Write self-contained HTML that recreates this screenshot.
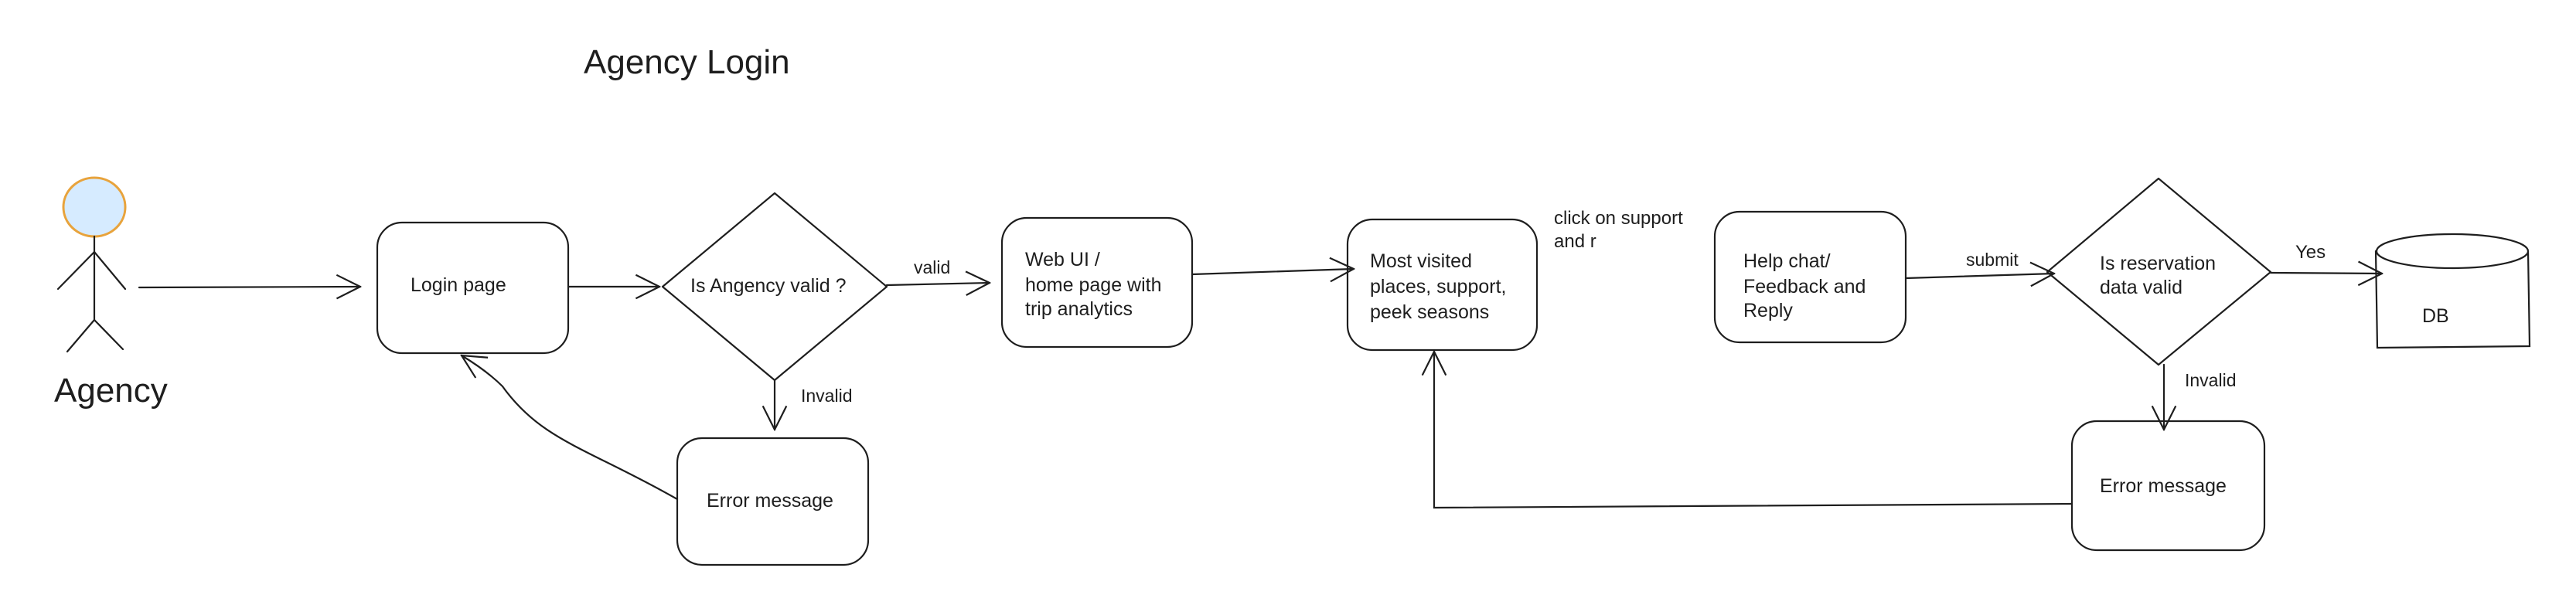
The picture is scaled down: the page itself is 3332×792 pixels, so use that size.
<!DOCTYPE html>
<html><head><meta charset="utf-8"><style>
html,body{margin:0;padding:0;background:#fff}
svg{display:block}
text{font-family:"Liberation Sans",sans-serif;fill:#1e1e1e}
</style></head><body>
<svg width="3332" height="792" viewBox="0 0 3332 792" xmlns="http://www.w3.org/2000/svg">
<defs>
<marker id="a" viewBox="0 0 20 20" refX="19" refY="10" markerWidth="34" markerHeight="34" markerUnits="userSpaceOnUse" orient="auto">
<path d="M1 1 L19 10 L1 19" fill="none" stroke="#1e1e1e" stroke-width="1.3"/>
</marker>
</defs>
<text x="755" y="95" font-size="44">Agency Login</text>

<ellipse cx="122" cy="268" rx="40" ry="38" fill="#d6ebff" stroke="#e8a33c" stroke-width="3"/>
<g fill="none" stroke="#1e1e1e" stroke-width="2.2" stroke-linecap="round">
<line x1="122" y1="306" x2="122" y2="414"/>
<line x1="122" y1="326" x2="75" y2="374"/>
<line x1="122" y1="326" x2="162" y2="374"/>
<line x1="122" y1="414" x2="87" y2="455"/>
<line x1="122" y1="414" x2="159" y2="452"/>
</g>
<text x="70" y="520" font-size="44">Agency</text>

<g fill="none" stroke="#1e1e1e" stroke-width="2.2" stroke-linecap="round">
<line x1="180" y1="372" x2="466" y2="371" marker-end="url(#a)"/>
<rect x="488" y="288" width="247" height="169" rx="32"/>
<line x1="735" y1="371" x2="853" y2="371" marker-end="url(#a)"/>
<path d="M1002 250 L1147 371 L1002 492 L857 371 Z" stroke-linejoin="round"/>
<line x1="1147" y1="369" x2="1280" y2="366" marker-end="url(#a)"/>
<rect x="1296" y="282" width="246" height="167" rx="32"/>
<line x1="1542" y1="355" x2="1751" y2="348" marker-end="url(#a)"/>
<line x1="1002" y1="492" x2="1002" y2="556" marker-end="url(#a)"/>
<rect x="876" y="567" width="247" height="164" rx="32"/>
<path d="M876 646 C760 580 700 570 650 500 Q630 480 597 460" marker-end="url(#a)"/>

<rect x="1743" y="284" width="245" height="169" rx="32"/>
<rect x="2218" y="274" width="247" height="169" rx="32"/>
<line x1="2465" y1="360" x2="2657" y2="354" marker-end="url(#a)"/>
<path d="M2792 231 L2937 352 L2792 472 L2648 352 Z" stroke-linejoin="round"/>
<line x1="2937" y1="353" x2="3081" y2="354" marker-end="url(#a)"/>
<path d="M3073 325 L3075 450 L3272 448 L3270 325"/>
<ellipse cx="3172" cy="325" rx="98" ry="22" fill="#fff"/>
<line x1="2799" y1="472" x2="2799" y2="556" marker-end="url(#a)"/>
<rect x="2680" y="545" width="249" height="167" rx="32"/>
<path d="M2680 652 L1855 657 L1855 455" marker-end="url(#a)"/>
</g>

<g font-size="25">
<text x="531" y="377">Login page</text>
<text x="893" y="378">Is Angency valid ?</text>
<text x="1182" y="354" font-size="23">valid</text>
<text x="1326" y="344">Web UI /</text>
<text x="1326" y="377">home page with</text>
<text x="1326" y="408">trip analytics</text>
<text x="1036" y="520" font-size="23">Invalid</text>
<text x="914" y="656">Error message</text>
<text x="1772" y="346">Most visited</text>
<text x="1772" y="379">places, support,</text>
<text x="1772" y="412">peek seasons</text>
<text x="2010" y="290" font-size="24">click on support</text>
<text x="2010" y="320" font-size="24">and r</text>
<text x="2255" y="346">Help chat/</text>
<text x="2255" y="379">Feedback and</text>
<text x="2255" y="410">Reply</text>
<text x="2543" y="344" font-size="23">submit</text>
<text x="2716" y="349">Is reservation</text>
<text x="2716" y="380">data valid</text>
<text x="2969" y="334" font-size="24">Yes</text>
<text x="3133" y="417">DB</text>
<text x="2826" y="500" font-size="23">Invalid</text>
<text x="2716" y="637">Error message</text>
</g>
</svg>
</body></html>
